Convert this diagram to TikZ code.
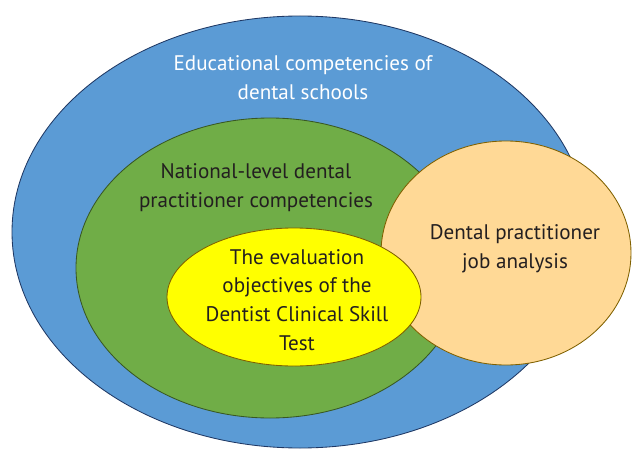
\documentclass[tikz,border=0pt]{standalone}
\usepackage{fontspec}
\setmainfont{PT Sans}
\usepackage{tikz}
\usetikzlibrary{calc}

\definecolor{outerblue}{RGB}{91,155,213}
\definecolor{midgreen}{RGB}{112,173,71}
\definecolor{coreyellow}{RGB}{255,255,0}
\definecolor{jobpeach}{RGB}{255,217,150}
\definecolor{navyline}{RGB}{31,56,100}
\definecolor{greenline}{RGB}{56,87,35}
\definecolor{brownline}{RGB}{127,96,0}
\definecolor{inktext}{RGB}{35,31,32}

\tikzset{
    label text/.style={align=center, font=\fontsize{15}{20.5}\selectfont, text=inktext},
}

\begin{document}
\begin{tikzpicture}
    \useasboundingbox (0,0) rectangle (15.825,11.25);

    \coordinate (O) at (7.5, 5.45);
    \coordinate (N) at (6.75, 4.55);
    \coordinate (J) at (12.65, 4.925);
    \coordinate (E) at (7.35, 3.825);

    \draw[fill=outerblue, draw=navyline, line width=0.6pt]
        (O) ellipse [x radius=7.2, y radius=5.4];
    \draw[fill=midgreen, draw=greenline, line width=0.6pt]
        (N) ellipse [x radius=4.85, y radius=3.75];
    \draw[fill=jobpeach, draw=brownline, line width=0.6pt]
        (J) ellipse [x radius=3.125, y radius=2.8];
    \draw[fill=coreyellow, draw=brownline, line width=0.6pt]
        (E) ellipse [x radius=3.175, y radius=1.725];

    \node[label text, text=white] (school) at (7.575, 9.3)
        {Educational competencies of\\dental schools};
    \node[label text] (national) at (6.4, 6.55)
        {National-level dental\\practitioner competencies};
    \node[label text] (job) at (12.875, 5.025)
        {Dental practitioner\\job analysis};
    \node[label text] (exam) at (7.425, 3.75)
        {The evaluation\\objectives of the\\Dentist Clinical Skill\\Test};
\end{tikzpicture}
\end{document}
